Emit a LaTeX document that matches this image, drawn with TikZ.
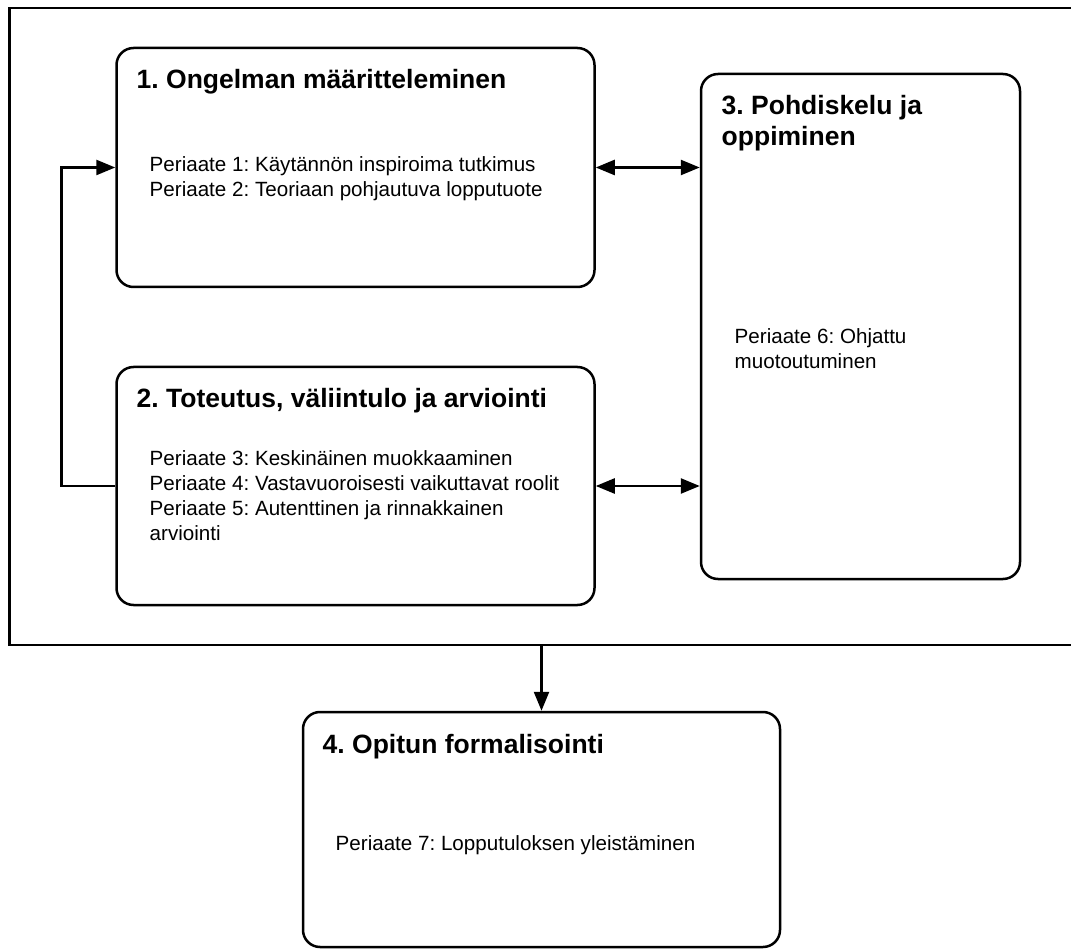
\documentclass[tikz,border=0pt]{standalone}
\usepackage{fontspec}
\setmainfont{Liberation Sans}
\usetikzlibrary{arrows.meta}
\frenchspacing
\begin{document}
\begin{tikzpicture}[x=1pt,y=-1pt,
  frame/.style={draw, line width=2.5pt, inner sep=0pt},
  phase/.style={draw, line width=2.5pt, rounded corners=17pt, inner sep=0pt},
  link/.style={line width=2.5pt, -{Triangle[length=19pt,width=15pt]}},
  duallink/.style={line width=2.5pt, {Triangle[length=19pt,width=15pt]}-{Triangle[length=19pt,width=15pt]}},
  heading/.style={anchor=base west, inner sep=0pt, align=left,
    font=\fontsize{26.5}{31}\selectfont\bfseries},
  principle/.style={anchor=base west, inner sep=0pt, align=left,
    font=\fontsize{20.6}{25}\selectfont}]
\clip (0,0) rectangle (1071,949);
\fill[white] (0,0) rectangle (1071,949);

% outer frame around the iterative phases
\node[frame, minimum width=1070.5pt, minimum height=637pt] (frame) at (544.75,326.5) {};

% phase boxes
\node[phase, minimum width=478pt, minimum height=239pt] (box1) at (355.5,167.5) {};
\node[phase, minimum width=478pt, minimum height=238pt] (box2) at (355.5,486) {};
\node[phase, minimum width=319pt, minimum height=505pt] (box3) at (860.5,326.5) {};
\node[phase, minimum width=477pt, minimum height=235pt] (box4) at (541.5,829.5) {};

% texts (anchored at the baseline of their last line)
\node[heading] (t1) at (136.5,89) {1. Ongelman määritteleminen};
\node[principle] (p1) at (149.5,197) {Periaate 1: Käytännön inspiroima tutkimus\\Periaate 2: Teoriaan pohjautuva lopputuote};
\node[heading] (t2) at (136.5,408) {2. Toteutus, väliintulo ja arviointi};
\node[principle] (p2) at (149.5,540) {Periaate 3: Keskinäinen muokkaaminen\\Periaate 4: Vastavuoroisesti vaikuttavat roolit\\Periaate 5: Autenttinen ja rinnakkainen\\arviointi};
\node[heading] (t3) at (721.5,146) {3. Pohdiskelu ja\\oppiminen};
\node[principle] (p3) at (734.5,369) {Periaate 6: Ohjattu\\muotoutuminen};
\node[heading] (t4) at (322.5,753) {4. Opitun formalisointi};
\node[principle] (p4) at (335.5,850) {Periaate 7: Lopputuloksen yleistäminen};

% connectors
\draw[duallink] (box1.east) -- (box1.east -| box3.west);
\draw[duallink] (box2.east) -- (box2.east -| box3.west);
\draw[link] (box2.west) -- ++(-54,0) |- (box1.west);
\draw[link] (box4.north |- frame.south) -- (box4.north);
\end{tikzpicture}
\end{document}
